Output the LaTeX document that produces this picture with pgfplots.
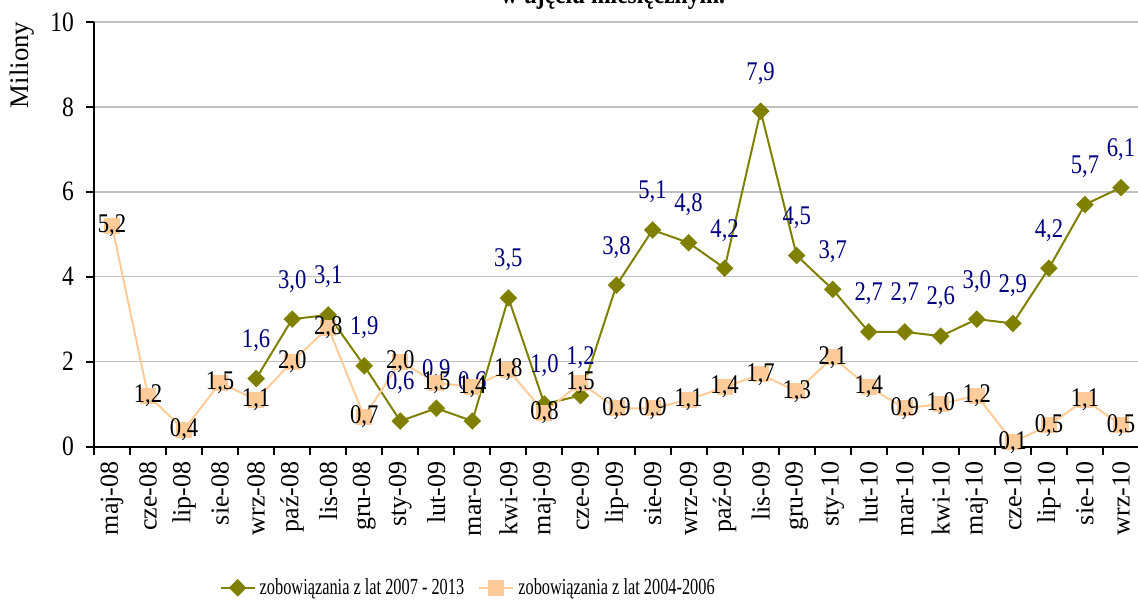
\documentclass[border=0pt]{standalone}
\usepackage{fontspec}
\setmainfont[FakeStretch=0.84]{Liberation Serif}
\newfontfamily\rotfont{Liberation Serif}
\newfontfamily\legfont[FakeStretch=0.71]{Liberation Serif}
\usepackage{pgfplots}
\pgfplotsset{compat=1.18}
\definecolor{olivec}{HTML}{808000}
\definecolor{peach}{HTML}{FFCC99}
\definecolor{navyc}{HTML}{000080}
\definecolor{gridc}{HTML}{C0C0C0}
\begin{document}
\begin{tikzpicture}
\useasboundingbox (-47pt,-76.25pt) rectangle (522pt,223.25pt);
\begin{axis}[
 at={(0,0)}, anchor=south west,
 scale only axis, width=522.5pt, height=212.25pt,
 xmin=-0.5, xmax=28.5, ymin=0, ymax=10,
 clip=false,
 axis lines*=left,
 axis line style={black, line width=1pt},
 tick align=outside,
 major tick length=4pt,
 tick style={black, line width=1pt},
 /pgf/number format/assume math mode=true,
 ytick={0,2,4,6,8,10},
 yticklabel style={xshift=-2.5pt, font=\fontsize{14}{16}\selectfont},
 xtick={-0.5,0.5,1.5,2.5,3.5,4.5,5.5,6.5,7.5,8.5,9.5,10.5,11.5,12.5,13.5,14.5,15.5,16.5,17.5,18.5,19.5,20.5,21.5,22.5,23.5,24.5,25.5,26.5,27.5,28.5},
 xticklabels={},
 extra x ticks={0,1,2,3,4,5,6,7,8,9,10,11,12,13,14,15,16,17,18,19,20,21,22,23,24,25,26,27,28},
 extra x tick labels={maj-08,cze-08,lip-08,sie-08,wrz-08,paź-08,lis-08,gru-08,sty-09,lut-09,mar-09,kwi-09,maj-09,cze-09,lip-09,sie-09,wrz-09,paź-09,lis-09,gru-09,sty-10,lut-10,mar-10,kwi-10,maj-10,cze-10,lip-10,sie-10,wrz-10},
 extra x tick style={major tick length=0pt, xticklabel shift=4pt, xticklabel style={rotate=90, anchor=east, font=\rotfont\fontsize{13}{15}\selectfont}},
 ymajorgrids, grid style={gridc, line width=0.75pt},
 ylabel={Miliony},
 ylabel style={at={(axis description cs:-0.069,0.899)}, anchor=center, font=\rotfont\fontsize{13.4}{15}\selectfont},
 legend style={at={(axis description cs:0.359,-0.333)}, anchor=center, draw=none, fill=none, legend columns=2, font=\legfont\fontsize{11.5}{13}\selectfont, /tikz/every even column/.append style={column sep=5pt}},
 legend cell align=left,
 nodes near coords={\pgfmathprintnumber[fixed, fixed zerofill, precision=1, use comma]{\pgfplotspointmeta}},
 nodes near coords style={font=\fontsize{13.5}{15}\selectfont, inner sep=0pt},
]
\addplot[olivec, line width=1pt, mark=square*, mark size=2.6pt, mark options={rotate=45, solid, fill=olivec},
 every node near coord/.append style={navyc, anchor=center, yshift=19pt}]
coordinates {(4,1.6)(5,3.0)(6,3.1)(7,1.9)(8,0.6)(9,0.9)(10,0.6)(11,3.5)(12,1.0)(13,1.2)(14,3.8)(15,5.1)(16,4.8)(17,4.2)(18,7.9)(19,4.5)(20,3.7)(21,2.7)(22,2.7)(23,2.6)(24,3.0)(25,2.9)(26,4.2)(27,5.7)(28,6.1)};
\addlegendentry{zobowiązania z lat 2007 - 2013}
\addplot[peach, line width=1pt, mark=square*, mark size=3.5pt, mark options={solid, fill=peach},
 every node near coord/.append style={black, anchor=center}]
coordinates {(0,5.2)(1,1.2)(2,0.4)(3,1.5)(4,1.1)(5,2.0)(6,2.8)(7,0.7)(8,2.0)(9,1.5)(10,1.4)(11,1.8)(12,0.8)(13,1.5)(14,0.9)(15,0.9)(16,1.1)(17,1.4)(18,1.7)(19,1.3)(20,2.1)(21,1.4)(22,0.9)(23,1.0)(24,1.2)(25,0.1)(26,0.5)(27,1.1)(28,0.5)};
\addlegendentry{zobowiązania z lat 2004-2006}
\end{axis}
\node[anchor=base, font=\bfseries\fontsize{14}{16}\selectfont] at (259.5pt,221.5pt) {w ujęciu miesięcznym.};
\end{tikzpicture}
\end{document}
